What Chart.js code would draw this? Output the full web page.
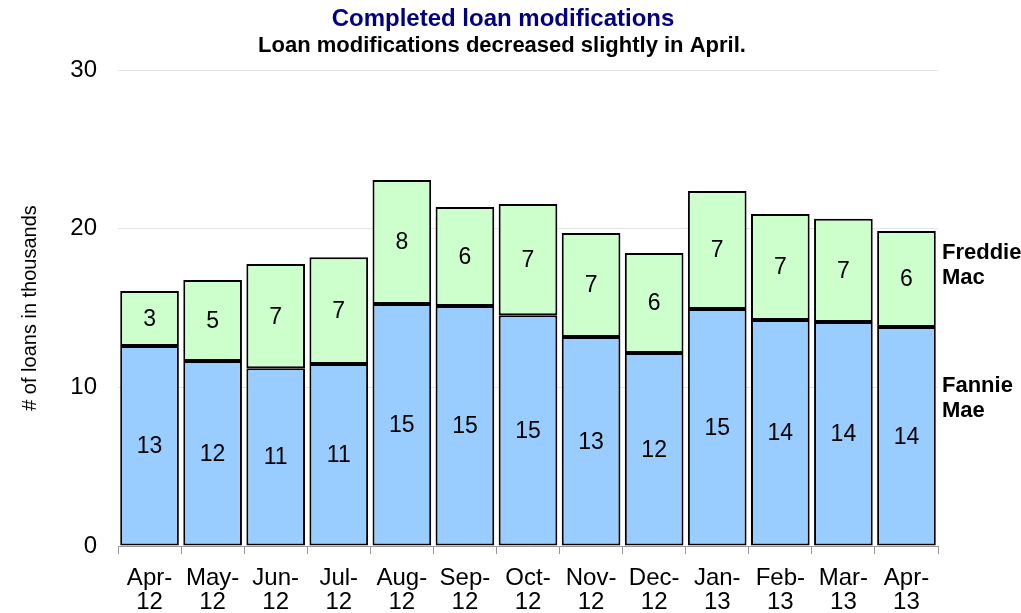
<!DOCTYPE html>
<html lang="en">
<head>
    <meta charset="UTF-8">
    <title>Completed loan modifications</title>
    <style>
        body {
            margin: 0;
            background-color: #fff;
        }
        .chart-container {
            width: 1021px;
            height: 613px;
        }
    </style>
</head>
<body>
    <div class="chart-container">
        <canvas id="loanChart"></canvas>
    </div>

    <script src="https://cdn.jsdelivr.net/npm/chart.js"></script>
    <script>
        // Data (thousands of loans)
        var months = [['Apr-', '12'], ['May-', '12'], ['Jun-', '12'], ['Jul-', '12'], ['Aug-', '12'], ['Sep-', '12'],
            ['Oct-', '12'], ['Nov-', '12'], ['Dec-', '12'], ['Jan-', '13'], ['Feb-', '13'], ['Mar-', '13'], ['Apr-', '13']];
        var fannieMae = [12.6, 11.66, 11.2, 11.47, 15.25, 15.12, 14.55, 13.17, 12.16, 14.93, 14.24, 14.11, 13.8];
        var freddieMac = [3.47, 5.1, 6.57, 6.73, 7.81, 6.24, 7.0, 6.55, 6.3, 7.44, 6.68, 6.52, 6.05];
        var yTicks = [0, 10, 20, 30];

        var FONT = 'Arial, "Liberation Sans", sans-serif';

        // draws titles, value labels inside bars and the series names on the right
        var labelPlugin = {
            id: 'labelPlugin',
            afterDatasetsDraw: function (chart) {
                var ctx = chart.ctx;
                var area = chart.chartArea;
                var yScale = chart.scales.y;
                ctx.save();
                ctx.textAlign = 'center';
                ctx.textBaseline = 'middle';
                ctx.fillStyle = '#000';
                ctx.font = '23px ' + FONT;
                chart.data.datasets.forEach(function (ds, i) {
                    var meta = chart.getDatasetMeta(i);
                    meta.data.forEach(function (bar, j) {
                        var mid = (bar.y + bar.base) / 2;
                        ctx.fillText(Math.round(ds.data[j]), bar.x, mid + 1);
                    });
                });

                // titles
                ctx.fillStyle = '#000080';
                ctx.font = 'bold 24px ' + FONT;
                ctx.fillText('Completed loan modifications', 503, 19);
                ctx.fillStyle = '#000';
                ctx.font = 'bold 22px ' + FONT;
                ctx.fillText('Loan modifications decreased slightly in April.', 502, 46);

                // series names next to last bar
                ctx.textAlign = 'left';
                ctx.font = 'bold 22px ' + FONT;
                var x = area.right + 4;
                var yFreddie = yScale.getPixelForValue(17.7);
                ctx.fillText('Freddie', x, yFreddie - 12);
                ctx.fillText('Mac', x, yFreddie + 13);
                var yFannie = yScale.getPixelForValue(9.35);
                ctx.fillText('Fannie', x, yFannie - 12);
                ctx.fillText('Mae', x, yFannie + 13);
                ctx.restore();
            }
        };

        var loanCtx = document.getElementById('loanChart').getContext('2d');
        var loanChart = new Chart(loanCtx, {
            type: 'bar',
            data: {
                labels: months,
                datasets: [{
                    label: 'Fannie Mae',
                    data: fannieMae,
                    backgroundColor: '#99ccff',
                    borderColor: '#000',
                    borderWidth: 2,
                    borderSkipped: false
                }, {
                    label: 'Freddie Mac',
                    data: freddieMac,
                    backgroundColor: '#ccffcc',
                    borderColor: '#000',
                    borderWidth: 2,
                    borderSkipped: false
                }]
            },
            options: {
                responsive: true,
                maintainAspectRatio: false,
                animation: false,
                layout: {
                    padding: { top: 70, right: 83, left: 0, bottom: 0 }
                },
                plugins: {
                    legend: { display: false },
                    tooltip: { enabled: false }
                },
                datasets: {
                    bar: {
                        barPercentage: 0.93,
                        categoryPercentage: 1.0
                    }
                },
                scales: {
                    x: {
                        stacked: true,
                        offset: true,
                        grid: {
                            offset: true,
                            drawOnChartArea: false,
                            drawTicks: true,
                            tickLength: 8,
                            color: '#999'
                        },
                        border: { display: true, color: '#999', width: 1 },
                        ticks: {
                            color: '#000',
                            font: { size: 24, family: FONT, lineHeight: 1.0 },
                            maxRotation: 0,
                            autoSkip: false,
                            padding: 12
                        },
                        afterFit: function (scale) { scale.height = 67; }
                    },
                    y: {
                        stacked: true,
                        min: 0,
                        max: 30,
                        afterBuildTicks: function (scale) {
                            scale.ticks = yTicks.map(function (v) { return { value: v }; });
                        },
                        grid: {
                            color: '#e4e4e4',
                            drawTicks: false
                        },
                        border: { display: false },
                        ticks: {
                            color: '#000',
                            font: { size: 24, family: FONT },
                            padding: 21
                        },
                        title: {
                            display: true,
                            text: '# of loans in thousands',
                            color: '#000',
                            font: { size: 20, family: FONT },
                            padding: { top: 18, bottom: 0 }
                        },
                        afterFit: function (scale) { scale.width = 118; }
                    }
                }
            },
            plugins: [labelPlugin]
        });
    </script>
</body>
</html>
